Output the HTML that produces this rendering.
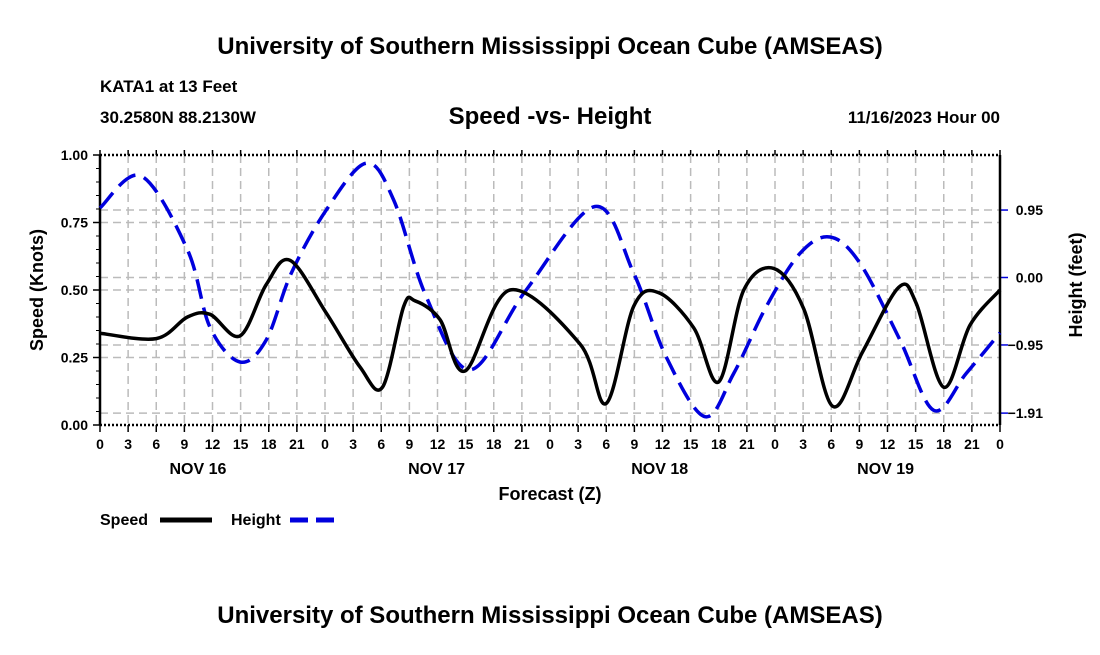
<!DOCTYPE html>
<html><head><meta charset="utf-8"><style>
body{margin:0;background:#fff;}
svg text{font-family:"Liberation Sans",Arial,sans-serif;font-weight:bold;fill:#000;}
</style></head><body>
<svg id="chart" width="1100" height="650" xmlns="http://www.w3.org/2000/svg">
<text x="550" y="54" font-size="24" text-anchor="middle">University of Southern Mississippi Ocean Cube (AMSEAS)</text>
<text x="100" y="92" font-size="17">KATA1 at 13 Feet</text>
<text x="100" y="123" font-size="17">30.2580N  88.2130W</text>
<text x="550" y="124" font-size="24" text-anchor="middle">Speed -vs- Height</text>
<text x="1000" y="123" font-size="17" text-anchor="end">11/16/2023 Hour 00</text>
<g id="grid"></g>
<g id="axes"></g>
<g id="series"></g>
<text x="550" y="500" font-size="18" text-anchor="middle">Forecast (Z)</text>
<text transform="translate(43,290) rotate(-90)" font-size="18" text-anchor="middle">Speed (Knots)</text>
<text transform="translate(1082,285) rotate(-90)" font-size="18" text-anchor="middle">Height (feet)</text>
<g>
<text x="100" y="525" font-size="16">Speed</text>
<line x1="160" y1="520" x2="212" y2="520" stroke="#000" stroke-width="5"/>
<text x="231" y="525" font-size="16">Height</text>
<line x1="290" y1="520" x2="342" y2="520" stroke="#0000dd" stroke-width="5" stroke-dasharray="18,8"/>
</g>
<text x="550" y="623" font-size="24" text-anchor="middle">University of Southern Mississippi Ocean Cube (AMSEAS)</text>
</svg>
<script>
const speedHours=[0,6,9.33,11.73,14.93,17.73,20.27,24.13,27.73,30.13,32.4,33.6,36.27,38.93,43.73,51.2,54,56.93,59.6,63.33,66,68.67,71.87,75.07,78.13,81.33,85.2,87.07,90,92.8,96];
const speedValues=[0.34,0.32,0.40,0.41,0.33,0.52,0.61,0.415,0.215,0.14,0.44,0.46,0.39,0.20,0.50,0.30,0.08,0.44,0.49,0.36,0.16,0.50,0.58,0.43,0.07,0.27,0.51,0.45,0.14,0.37,0.50];
const heightHours=[0,4.4,9.33,11.73,14.93,17.73,20.4,24.13,28.4,31.33,34.8,39.47,45.33,52.8,56.93,60.4,64.53,67.6,71.07,74.67,77.87,81.07,85.33,88.93,92.4,96];
const heightValues=[0.98,1.43,0.39,-0.70,-1.19,-0.88,0.06,0.95,1.61,1.09,-0.27,-1.30,-0.2,1.0,0.06,-1.12,-1.96,-1.35,-0.41,0.34,0.57,0.20,-0.88,-1.87,-1.35,-0.78];
const xTickLabels=[0,3,6,9,12,15,18,21,0,3,6,9,12,15,18,21,0,3,6,9,12,15,18,21,0,3,6,9,12,15,18,21,0];
const speedTicks=[0,0.25,0.5,0.75,1.0];
const heightTicks=[0.95,0,-0.95,-1.91];
const dayLabels=["NOV 16","NOV 17","NOV 18","NOV 19"];
const dayLabelHours=[10.45,35.9,59.7,83.8];

const L=100,R=1000,T=155,B=425,HOURS=96;
const xs=h=>L+(R-L)*h/HOURS;
const ys=v=>B-(B-T)*v/1.0;
const yh=v=>277.5-71*v;
const NS="http://www.w3.org/2000/svg";
function mk(tag,attrs,parent){const e=document.createElementNS(NS,tag);for(const k in attrs)e.setAttribute(k,attrs[k]);parent.appendChild(e);return e;}
const grid=document.getElementById('grid'),axes=document.getElementById('axes'),series=document.getElementById('series');
const gs={stroke:"#bbb","stroke-width":1.5,"stroke-dasharray":"8,5"};
const n=xTickLabels.length;
for(let i=0;i<n;i++){
  const x=xs(i*3);
  if(i>0&&i<n-1){const g=mk('line',Object.assign({x1:x,x2:x,y1:T,y2:B},gs),grid);
  
  }
  const t=mk('line',{x1:x,x2:x,y1:B,y2:B+7,stroke:"#000","stroke-width":1.5},axes);
  
  
  const t2=mk('line',{x1:x,x2:x,y1:T,y2:T-5,stroke:"#000","stroke-width":1.5},axes);
  
  
  const lb=mk('text',{x:x,y:449,"font-size":14,"text-anchor":"middle"},axes);lb.textContent=xTickLabels[i];
  
  
}
dayLabels.forEach((d,i)=>{const t=mk('text',{x:xs(dayLabelHours[i]),y:474,"font-size":16,"text-anchor":"middle"},axes);t.textContent=d;
  
  });
speedTicks.forEach(v=>{const y=ys(v);
  if(v>0&&v<1){const g=mk('line',Object.assign({x1:L,x2:R,y1:y,y2:y},gs),grid);
  
  }
  const t=mk('line',{x1:L-7,x2:L,y1:y,y2:y,stroke:"#000","stroke-width":1.5},axes);
  
  
  const lb=mk('text',{x:L-12,y:y+5,"font-size":14,"text-anchor":"end"},axes);lb.textContent=v.toFixed(2);
  
  });
for(let v=0.05;v<1;v+=0.05){const y=ys(v);const t=mk('line',{x1:L-4,x2:L,y1:y,y2:y,stroke:"#000","stroke-width":1},axes);
  
  }
heightTicks.forEach(v=>{const y=yh(v);
  const g=mk('line',Object.assign({x1:L,x2:R,y1:y,y2:y},gs),grid);
  
  
  const t=mk('line',{x1:R,x2:R+8,y1:y,y2:y,stroke:"#0000dd","stroke-width":1.5},axes);
  
  
  const lb=mk('text',{x:1043,y:y+5,"font-size":14,"text-anchor":"end"},axes);lb.textContent=v.toFixed(2).replace('-','\u2212');
  
  });
const frame=[[L,T,L,B,2.5,null],[R,T,R,B,2.5,null],[L,B,R,B,2.5,"2,2"],[L,T,R,T,2.5,"2,2"]];
frame.forEach(f=>{const a={x1:f[0],y1:f[1],x2:f[2],y2:f[3],stroke:"#000","stroke-width":f[4]};if(f[5])a["stroke-dasharray"]=f[5];
  const l=mk('line',a,axes);
  
  });
function smooth(hs,vs,yf){
  const p=hs.map((h,i)=>[xs(h),yf(vs[i])]);let d=`M${p[0][0]},${p[0][1]}`;
  for(let i=0;i<p.length-1;i++){const p0=p[Math.max(0,i-1)],p1=p[i],p2=p[i+1],p3=p[Math.min(p.length-1,i+2)];
    const c1=[p1[0]+(p2[0]-p0[0])/6,p1[1]+(p2[1]-p0[1])/6],c2=[p2[0]-(p3[0]-p1[0])/6,p2[1]-(p3[1]-p1[1])/6];
    d+=` C${c1[0]},${c1[1]} ${c2[0]},${c2[1]} ${p2[0]},${p2[1]}`;}
  return d;}
const hp=mk('path',{d:smooth(heightHours,heightValues,yh),fill:"none",stroke:"#0000dd","stroke-width":3.5,"stroke-dasharray":"20,9"},series);


const sp=mk('path',{d:smooth(speedHours,speedValues,ys),fill:"none",stroke:"#000","stroke-width":3.5,"stroke-linejoin":"round"},series);


</script>
</body></html>
